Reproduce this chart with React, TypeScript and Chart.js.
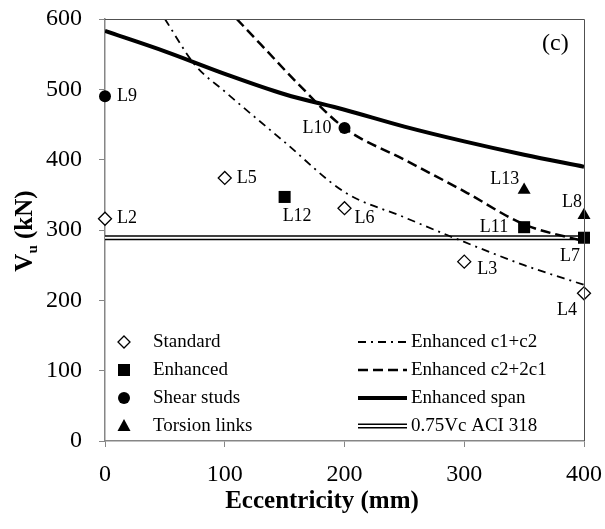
import React, { useEffect, useRef } from 'react';
import { Chart, registerables } from 'chart.js';

Chart.register(...registerables);

// ---- data ----
const xTicks = [0, 100, 200, 300, 400];
const yTicks = [0, 100, 200, 300, 400, 500, 600];

const standardX = [0, 100, 200, 300, 400];
const standardY = [316, 374, 331, 255, 210];
const standardLabels = ['L2', 'L5', 'L6', 'L3', 'L4'];

const enhancedX = [150, 350, 400];
const enhancedY = [347, 304, 289];
const enhancedLabels = ['L12', 'L11', 'L7'];

const studsX = [0, 200];
const studsY = [490, 445];
const studsLabels = ['L9', 'L10'];

const torsionX = [350, 400];
const torsionY = [357, 321];
const torsionLabels = ['L13', 'L8'];

const c1c2X = [50, 75, 100, 150, 200, 250, 300, 350, 400];
const c1c2Y = [600, 535, 497, 425, 354, 318, 283, 250, 222];

const c2c1X = [110, 135, 160, 200, 250, 300, 350, 400];
const c2c1Y = [600, 555, 510, 445, 400, 355, 308, 284];

const spanX = [0, 50, 100, 150, 200, 250, 300, 350, 400];
const spanY = [583, 554, 522, 493, 471, 447, 426, 407, 390];

const aciX = [0, 400];
const aciY = [289, 289];

const legendMarkers = ['Standard', 'Enhanced', 'Shear studs', 'Torsion links'];
const legendLines = ['Enhanced c1+c2', 'Enhanced c2+2c1', 'Enhanced span', '0.75Vc ACI 318'];

// ---- styles (label offsets in pixels) ----
const labelOffsets: Record<string, [CanvasTextAlign, number, number]> = {
  L2: ['left', 12, 0],
  L5: ['left', 12, 0],
  L6: ['left', 10, 10],
  L3: ['left', 13, 8],
  L4: ['right', -7, 17],
  L12: ['left', -2, 19],
  L11: ['right', -16, 0],
  L7: ['right', -4, 19],
  L9: ['left', 12, 0],
  L10: ['right', -13, 0],
  L13: ['right', -5, -11],
  L8: ['right', -2, -13],
};

const FONT = "'Liberation Serif', 'Times New Roman', serif";
const AXIS_GRAY = '#868686';

const pts = (xs: number[], ys: number[]) => xs.map((x, i) => ({ x, y: ys[i] }));

function drawMarker(ctx: CanvasRenderingContext2D, kind: string, x: number, y: number) {
  ctx.save();
  ctx.lineWidth = 1.3;
  ctx.strokeStyle = '#000';
  ctx.fillStyle = '#000';
  ctx.setLineDash([]);
  if (kind === 'Standard') {
    ctx.fillStyle = '#fff';
    ctx.beginPath();
    ctx.moveTo(x, y - 6);
    ctx.lineTo(x + 6, y);
    ctx.lineTo(x, y + 6);
    ctx.lineTo(x - 6, y);
    ctx.closePath();
    ctx.fill();
    ctx.stroke();
  } else if (kind === 'Enhanced') {
    ctx.fillRect(x - 6, y - 6, 12, 12);
  } else if (kind === 'Shear studs') {
    ctx.beginPath();
    ctx.arc(x, y, 6, 0, Math.PI * 2);
    ctx.fill();
  } else {
    ctx.beginPath();
    ctx.moveTo(x, y - 7);
    ctx.lineTo(x + 6.5, y + 5);
    ctx.lineTo(x - 6.5, y + 5);
    ctx.closePath();
    ctx.fill();
  }
  ctx.restore();
}

function drawLineSample(ctx: CanvasRenderingContext2D, kind: string, x1: number, x2: number, y: number) {
  ctx.save();
  ctx.strokeStyle = '#000';
  ctx.beginPath();
  ctx.moveTo(x1, y);
  ctx.lineTo(x2, y);
  if (kind === 'Enhanced c1+c2') {
    ctx.lineWidth = 1.8;
    ctx.setLineDash([8, 5, 2, 5]);
    ctx.stroke();
  } else if (kind === 'Enhanced c2+2c1') {
    ctx.lineWidth = 2.5;
    ctx.setLineDash([10, 5]);
    ctx.stroke();
  } else if (kind === 'Enhanced span') {
    ctx.lineWidth = 4;
    ctx.stroke();
  } else {
    ctx.lineWidth = 5;
    ctx.stroke();
    ctx.strokeStyle = '#fff';
    ctx.lineWidth = 2;
    ctx.stroke();
  }
  ctx.restore();
}

const overlayPlugin = {
  id: 'overlay',
  afterDraw(chart: any) {
    const ctx: CanvasRenderingContext2D = chart.ctx;
    const { left, right, top, bottom } = chart.chartArea;
    ctx.save();
    // top and right frame
    ctx.strokeStyle = '#505050';
    ctx.lineWidth = 1;
    ctx.beginPath();
    ctx.moveTo(left, top + 0.5);
    ctx.lineTo(right + 0.5, top + 0.5);
    ctx.lineTo(right + 0.5, bottom);
    ctx.stroke();

    // point labels
    ctx.fillStyle = '#000';
    ctx.font = `18px ${FONT}`;
    ctx.textBaseline = 'middle';
    const groups: [number[], number[], string[]][] = [
      [standardX, standardY, standardLabels],
      [enhancedX, enhancedY, enhancedLabels],
      [studsX, studsY, studsLabels],
      [torsionX, torsionY, torsionLabels],
    ];
    const xs = chart.scales.x;
    const ys = chart.scales.y;
    groups.forEach(([gx, gy, gl]) => {
      gl.forEach((lab, i) => {
        const px = xs.getPixelForValue(gx[i]);
        const py = ys.getPixelForValue(gy[i]);
        const [align, dx, dy] = labelOffsets[lab];
        ctx.textAlign = align;
        ctx.fillText(lab, px + dx, py + dy);
      });
    });

    // (c)
    ctx.font = `24px ${FONT}`;
    ctx.textAlign = 'left';
    ctx.fillText('(c)', 542, 44);

    // legend
    const rowY = [342, 370, 398, 426];
    ctx.font = `19px ${FONT}`;
    ctx.textAlign = 'left';
    legendMarkers.forEach((name, i) => {
      drawMarker(ctx, name, 124, rowY[i]);
      ctx.fillStyle = '#000';
      ctx.fillText(name, 153, rowY[i]);
    });
    legendLines.forEach((name, i) => {
      drawLineSample(ctx, name, 358, 407, rowY[i]);
      ctx.fillStyle = '#000';
      ctx.fillText(name, 411, rowY[i]);
    });

    // x title
    ctx.font = `bold 25px ${FONT}`;
    ctx.textAlign = 'center';
    ctx.textBaseline = 'alphabetic';
    ctx.fillText('Eccentricity (mm)', 322, 508);

    // y title with subscript
    ctx.save();
    ctx.translate(32, 231);
    ctx.rotate(-Math.PI / 2);
    const big = `bold 25px ${FONT}`;
    const small = `bold 15px ${FONT}`;
    ctx.font = big;
    const wV = ctx.measureText('V').width;
    const wRest = ctx.measureText(' (kN)').width;
    ctx.font = small;
    const wU = ctx.measureText('u').width;
    const total = wV + wU + wRest;
    let cx = -total / 2;
    ctx.textAlign = 'left';
    ctx.font = big;
    ctx.fillText('V', cx, 0);
    cx += wV;
    ctx.font = small;
    ctx.fillText('u', cx, 5);
    cx += wU;
    ctx.font = big;
    ctx.fillText(' (kN)', cx, 0);
    ctx.restore();

    ctx.restore();
  },
};

export default function App() {
  const ref = useRef<HTMLCanvasElement>(null);
  useEffect(() => {
    if (!ref.current) return;
    const markerBase = { showLine: false, clip: false as any, pointBorderColor: '#000' };
    const lineBase = { showLine: true, pointRadius: 0, borderColor: '#000', fill: false };
    const chart = new Chart(ref.current, {
      type: 'scatter',
      data: {
        datasets: [
          { ...markerBase, label: 'Standard', data: pts(standardX, standardY), pointStyle: 'rectRot', pointRadius: 6.5, pointBackgroundColor: '#fff', pointBorderWidth: 1.3 },
          { ...markerBase, label: 'Enhanced', data: pts(enhancedX, enhancedY), pointStyle: 'rect', pointRadius: 8.5, pointBackgroundColor: '#000', pointBorderWidth: 0 },
          { ...markerBase, label: 'Shear studs', data: pts(studsX, studsY), pointStyle: 'circle', pointRadius: 6, pointBackgroundColor: '#000', pointBorderWidth: 0 },
          { ...markerBase, label: 'Torsion links', data: pts(torsionX, torsionY), pointStyle: 'triangle', pointRadius: 7.5, pointBackgroundColor: '#000', pointBorderWidth: 0 },
          { ...lineBase, label: 'Enhanced c1+c2', data: pts(c1c2X, c1c2Y), borderWidth: 1.8, borderDash: [8, 5, 2, 5], cubicInterpolationMode: 'monotone' },
          { ...lineBase, label: 'Enhanced c2+2c1', data: pts(c2c1X, c2c1Y), borderWidth: 2.5, borderDash: [10, 5], cubicInterpolationMode: 'monotone' },
          { ...lineBase, label: 'Enhanced span', data: pts(spanX, spanY), borderWidth: 4, cubicInterpolationMode: 'monotone' },
          { ...lineBase, label: 'ACI white', data: pts(aciX, aciY), borderWidth: 2, borderColor: '#fff' },
          { ...lineBase, label: '0.75Vc ACI 318', data: pts(aciX, aciY), borderWidth: 5 },
        ] as any,
      },
      options: {
        animation: false,
        responsive: true,
        maintainAspectRatio: false,
        layout: { padding: { left: 0, right: 21, top: 19, bottom: 0 } },
        plugins: { legend: { display: false }, tooltip: { enabled: false }, title: { display: false } },
        scales: {
          x: {
            type: 'linear',
            min: 0,
            max: 400,
            afterBuildTicks: (s: any) => { s.ticks = xTicks.map((v) => ({ value: v })); },
            afterFit: (s: any) => { s.height = 88; s.paddingLeft = 0; s.paddingRight = 0; },
            grid: { display: true, drawOnChartArea: false, drawTicks: true, tickLength: 6, color: AXIS_GRAY },
            border: { display: true, color: AXIS_GRAY, width: 1.5 },
            ticks: { color: '#000', font: { family: FONT, size: 24 }, padding: 13, maxRotation: 0 },
          },
          y: {
            type: 'linear',
            min: 0,
            max: 600,
            afterBuildTicks: (s: any) => { s.ticks = yTicks.map((v) => ({ value: v })); },
            afterFit: (s: any) => { s.width = 105; s.paddingTop = 0; s.paddingBottom = 0; },
            grid: { display: true, drawOnChartArea: false, drawTicks: true, tickLength: 6, color: AXIS_GRAY },
            border: { display: true, color: AXIS_GRAY, width: 1.5 },
            ticks: { color: '#000', font: { family: FONT, size: 24 }, padding: 17 },
          },
        },
      },
      plugins: [overlayPlugin],
    });
    return () => chart.destroy();
  }, []);
  return (
    <div style={{ position: 'fixed', left: 0, top: 0, width: 605, height: 529, background: '#fff' }}>
      <canvas ref={ref} />
    </div>
  );
}
